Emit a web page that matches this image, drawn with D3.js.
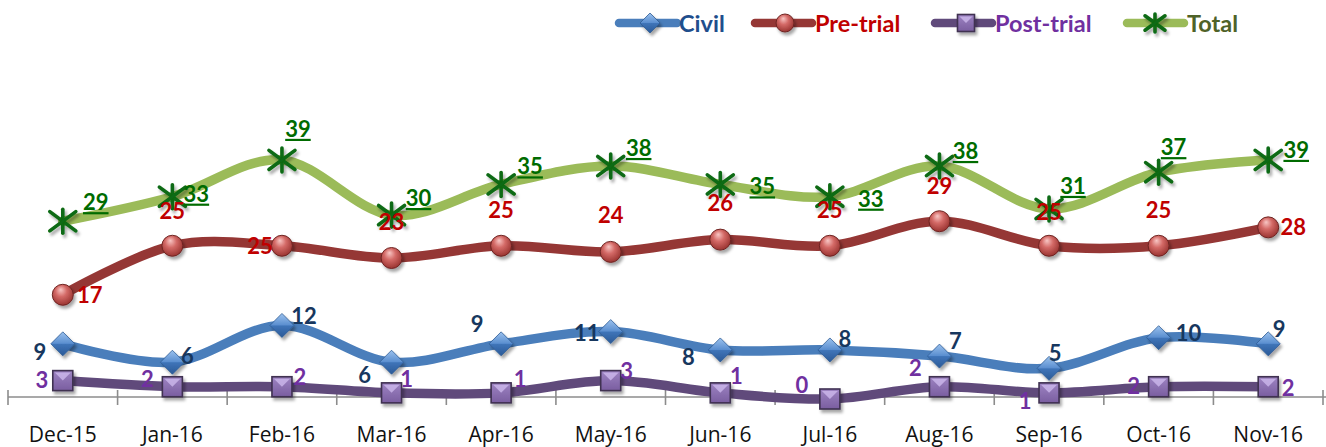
<!DOCTYPE html>
<html><head><meta charset="utf-8">
<script src="https://cdn.jsdelivr.net/npm/d3@7/dist/d3.min.js"></script>
<style>
html,body{margin:0;padding:0;background:#fff;}
svg{display:block;}
text{font-family:Lato,"Open Sans",sans-serif;}
</style></head>
<body>
<svg id="chart" width="1326" height="447"></svg>
<script>
// ---- data ----
const categories = ["Dec-15","Jan-16","Feb-16","Mar-16","Apr-16","May-16","Jun-16","Jul-16","Aug-16","Sep-16","Oct-16","Nov-16"];
const civil     = [9, 6, 12, 6, 9, 11, 8, 8, 7, 5, 10, 9];
const preTrial  = [17, 25, 25, 23, 25, 24, 26, 25, 29, 25, 25, 28];
const postTrial = [3, 2, 2, 1, 1, 3, 1, 0, 2, 1, 2, 2];
const total     = [29, 33, 39, 30, 35, 38, 35, 33, 38, 31, 37, 39];
const seriesNames = ["Civil", "Pre-trial", "Post-trial", "Total"];

// ---- label placement (layout only) ----
const civilLabelOff = [[-23,8],[15,-6],[22,-9],[-27,13],[-24,-20],[-24,1],[-32,7],[15,-11],[16,-15],[6,-15],[30,-5],[11,-15]];
const preLabelOff   = [[27,0],[0,-35],[-22,0],[0,-36],[0,-36],[0,-37],[0,-37],[0,-36],[0,-35],[0,-34],[0,-36],[25,0]];
const postLabelOff  = [[-21,-1],[-25,-8],[18,-10],[15,-14],[19,-14],[16,-10],[16,-17],[-28,-14],[-24,-19],[-24,8],[-25,-1],[20,1]];
const totalLabelOff = [[33,-19],[24,-3],[16,-31],[27,-17],[29,-18],[28,-18],[42,2],[41,2],[26,-15],[24,-23],[15,-25],[28,-10]];

const svg = d3.select("#chart");
const defs = svg.append("defs");

// gradients & filters
const sh = defs.append("filter").attr("id","shadow").attr("x","-50%").attr("y","-50%").attr("width","200%").attr("height","200%");
sh.append("feDropShadow").attr("dx",2).attr("dy",3).attr("stdDeviation",1.8).attr("flood-color","#000").attr("flood-opacity",0.35);

const gDia = defs.append("linearGradient").attr("id","gDia").attr("x1",0).attr("y1",0).attr("x2",0).attr("y2",1);
gDia.append("stop").attr("offset","0%").attr("stop-color","#9cc2ee");
gDia.append("stop").attr("offset","48%").attr("stop-color","#5b8fd0");
gDia.append("stop").attr("offset","52%").attr("stop-color","#3f74b8");
gDia.append("stop").attr("offset","100%").attr("stop-color","#2b5a97");

const gCir = defs.append("radialGradient").attr("id","gCir").attr("cx","0.45").attr("cy","0.4").attr("r","0.6").attr("fx","0.4").attr("fy","0.25");
gCir.append("stop").attr("offset","0%").attr("stop-color","#f8c6c4");
gCir.append("stop").attr("offset","45%").attr("stop-color","#d46a67");
gCir.append("stop").attr("offset","100%").attr("stop-color","#9a3431");

const gSq = defs.append("linearGradient").attr("id","gSq").attr("x1",0).attr("y1",0).attr("x2",0).attr("y2",1);
gSq.append("stop").attr("offset","0%").attr("stop-color","#9d83c2");
gSq.append("stop").attr("offset","100%").attr("stop-color","#7a5ea0");

// scales
const x = d3.scaleBand().domain(categories).range([8, 1323]).paddingInner(0).paddingOuter(0);
const cx = c => x(c) + x.bandwidth()/2;
const y = d3.scaleLinear().domain([0, 50]).range([399, 92.5]);

// axis
const axisG = svg.append("g").attr("transform","translate(0,397)");
const xAxis = d3.axisBottom(x).tickSize(0).tickPadding(0);
axisG.call(xAxis);
axisG.attr("font-family", null);
axisG.select(".domain").attr("stroke","#8c8c8c").attr("stroke-width",1.6).attr("d","M8,0H1326");
axisG.selectAll(".tick text").attr("font-size","21px").attr("fill","#111").attr("y",45).attr("dy",0)
  .style("font-family","'Open Sans', 'Noto Sans', sans-serif").style("font-weight","400");
// boundary tick marks
const bounds = categories.map(c => x(c)).concat([x(categories[categories.length-1]) + x.bandwidth()]);
axisG.selectAll(".bt").data(bounds).join("line").attr("class","bt")
  .attr("x1",d=>d).attr("x2",d=>d).attr("y1",-7).attr("y2",8)
  .attr("stroke","#8c8c8c").attr("stroke-width",1.6);

const line = d3.line().x((d,i)=>cx(categories[i])).y(d=>y(d)).curve(d3.curveCardinal.tension(0));

// marker painters
function diamond(g, px, py, s){
  g.append("path").attr("d",`M${px},${py-s}L${px+s},${py}L${px},${py+s}L${px-s},${py}Z`)
    .attr("fill","url(#gDia)").attr("stroke","#2e5c94").attr("stroke-width",0.8);
}
function circle(g, px, py, r){
  g.append("circle").attr("cx",px).attr("cy",py).attr("r",r)
    .attr("fill","url(#gCir)").attr("stroke","#6e2422").attr("stroke-width",1);
}
function square(g, px, py, s){
  g.append("rect").attr("x",px-s).attr("y",py-s).attr("width",2*s).attr("height",2*s)
    .attr("fill","url(#gSq)").attr("stroke","#3f3151").attr("stroke-width",1.6);
  g.append("path").attr("d",`M${px-s+2},${py-s+2}L${px+s-2},${py-s+2}L${px},${py}Z`).attr("fill","#cdb9ec").attr("opacity",0.8);
}
function star(g, px, py, w, h){
  const p = g.append("g").attr("stroke","#0b6a12").attr("stroke-width",3.6).attr("stroke-linecap","round");
  p.append("line").attr("x1",px).attr("x2",px).attr("y1",py-h).attr("y2",py+h);
  p.append("line").attr("x1",px-w).attr("x2",px+w).attr("y1",py-h*0.8).attr("y2",py+h*0.8);
  p.append("line").attr("x1",px-w).attr("x2",px+w).attr("y1",py+h*0.8).attr("y2",py-h*0.8);
}

const series = [
  {name:seriesNames[0], data:civil, color:"#4a7ebb", mk:(g,px,py)=>diamond(g,px,py,12), lab:"#17375e", off:civilLabelOff, ul:false},
  {name:seriesNames[1], data:preTrial, color:"#953735", mk:(g,px,py)=>circle(g,px,py,10.5), lab:"#c00000", off:preLabelOff, ul:false},
  {name:seriesNames[2], data:postTrial, color:"#604a7b", mk:(g,px,py)=>square(g,px,py,10), lab:"#7030a0", off:postLabelOff, ul:false},
  {name:seriesNames[3], data:total, color:"#9bbb59", mk:(g,px,py)=>star(g,px,py,13,12), lab:"#006b00", off:totalLabelOff, ul:true}
];

const plot = svg.append("g");
series.forEach(s=>{
  plot.append("path").datum(s.data).attr("d",line).attr("fill","none")
    .attr("stroke",s.color).attr("stroke-width",9.5).attr("stroke-linecap","round");
  const mg = plot.append("g").attr("filter","url(#shadow)");
  s.data.forEach((v,i)=> s.mk(mg, cx(categories[i]), y(v)));
});

// labels
const labG = svg.append("g");
series.forEach(s=>{
  s.data.forEach((v,i)=>{
    const px = cx(categories[i]) + s.off[i][0];
    const py = y(v) + s.off[i][1];
    const t = labG.append("text").attr("x",px).attr("y",py+8).attr("text-anchor","middle")
      .attr("font-size","22px").attr("font-weight","bold").attr("fill",s.lab).text(v);
    if (s.ul) {
      const w = t.node().getComputedTextLength();
      labG.append("line").attr("x1",px-w/2).attr("x2",px+w/2).attr("y1",py+11).attr("y2",py+11)
        .attr("stroke",s.lab).attr("stroke-width",2.2);
    }
  });
});

// legend
const legendLayout = [
  {x1:619, x2:677, mx:650, tx:679, tc:"#1f4e8c"},
  {x1:755, x2:812, mx:785, tx:815, tc:"#c00000"},
  {x1:935, x2:992, mx:966, tx:995, tc:"#7030a0"},
  {x1:1127, x2:1184, mx:1155, tx:1187, tc:"#4f6228"}
];
const lg = svg.append("g");
series.forEach((s,k)=>{
  const L = legendLayout[k], ly = 23;
  lg.append("line").attr("x1",L.x1).attr("x2",L.x2).attr("y1",ly).attr("y2",ly)
    .attr("stroke",s.color).attr("stroke-width",8.5).attr("stroke-linecap","round");
  const mg = lg.append("g").attr("filter","url(#shadow)");
  if(k===0) diamond(mg, L.mx, ly, 10);
  if(k===1) circle(mg, L.mx, ly, 9);
  if(k===2) square(mg, L.mx, ly, 8.5);
  if(k===3) star(mg, L.mx, ly, 10, 9);
  lg.append("text").attr("x",L.tx).attr("y",ly+8.5).attr("font-size","23.5px").attr("font-weight","bold")
    .attr("fill",L.tc).text(s.name);
});
</script>
</body></html>
